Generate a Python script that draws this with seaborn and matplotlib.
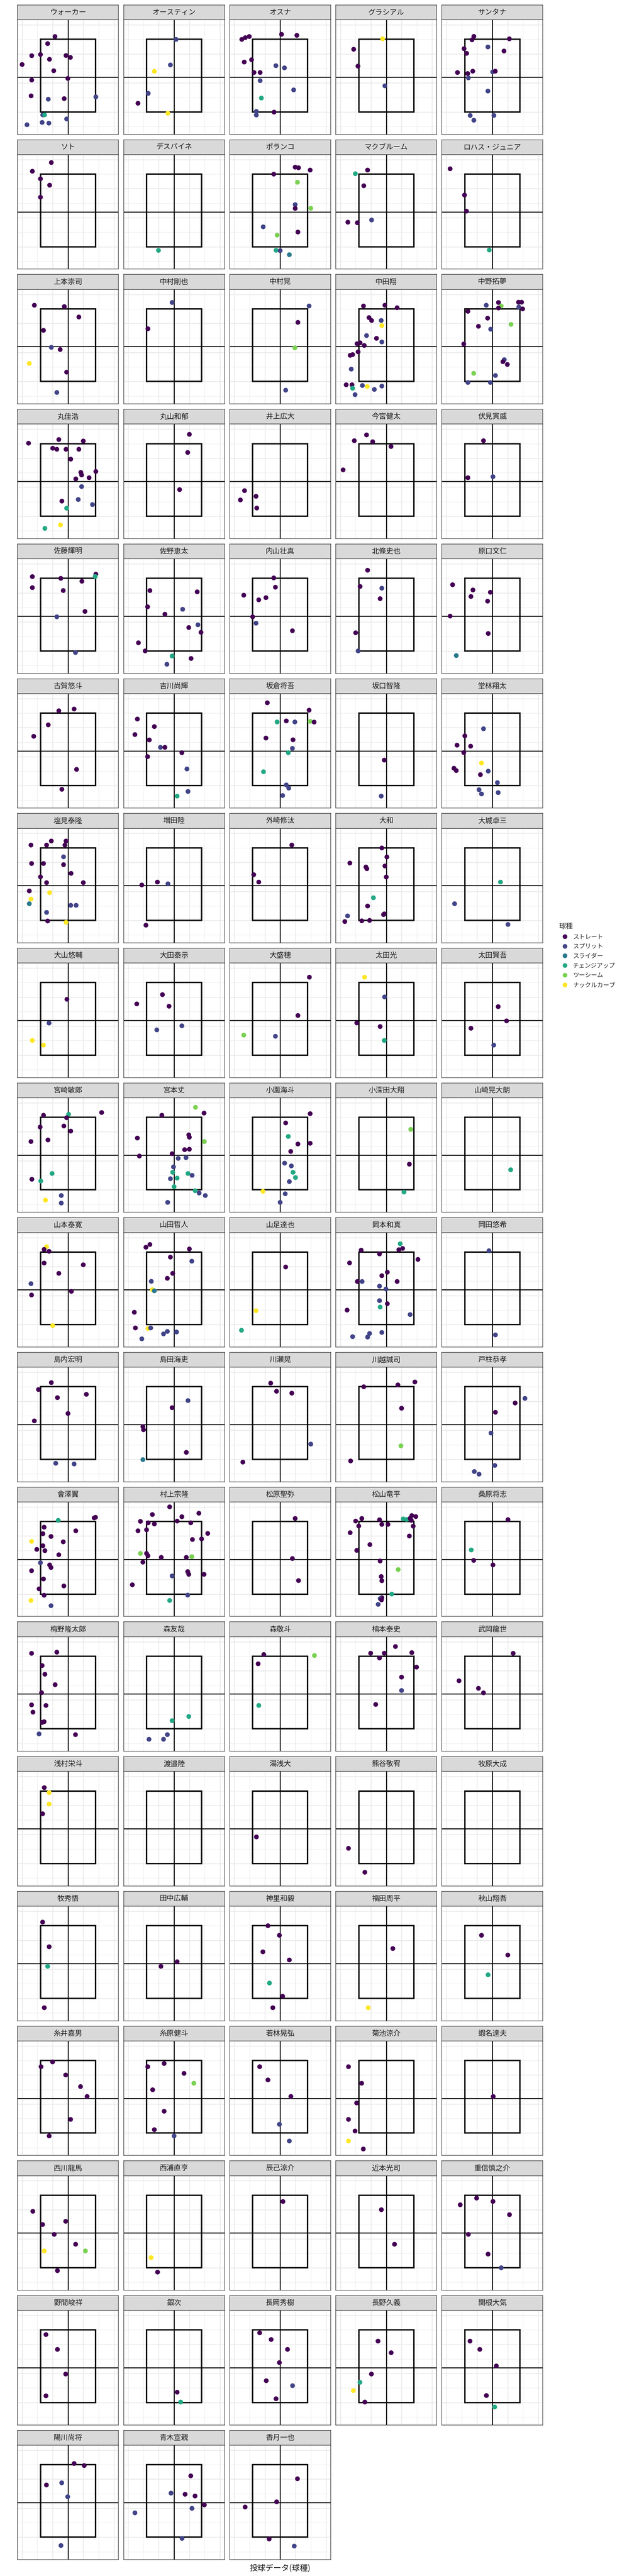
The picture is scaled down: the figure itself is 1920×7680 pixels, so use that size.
import numpy as np
import pandas as pd
import matplotlib
matplotlib.use("Agg")
import matplotlib.pyplot as plt
import seaborn as sns
from matplotlib.patches import Rectangle
from matplotlib.lines import Line2D

sns.set_theme(style="white")
plt.rcParams['font.family'] = ['Noto Sans CJK JP', 'DejaVu Sans']

pitch_names = ["ストレート", "スプリット", "スライダー", "チェンジアップ", "ツーシーム", "ナックルカーブ"]
pitch_codes = "SPLCTK"
palette = ["#440154", "#414487", "#2A788E", "#22A884", "#7AD151", "#FDE725"]

players = [
    "ウォーカー", "オースティン", "オスナ", "グラシアル", "サンタナ",
    "ソト", "デスパイネ", "ポランコ", "マクブルーム", "ロハス・ジュニア",
    "上本崇司", "中村剛也", "中村晃", "中田翔", "中野拓夢",
    "丸佳浩", "丸山和郁", "井上広大", "今宮健太", "伏見寅威",
    "佐藤輝明", "佐野恵太", "内山壮真", "北條史也", "原口文仁",
    "古賀悠斗", "吉川尚輝", "坂倉将吾", "坂口智隆", "堂林翔太",
    "塩見泰隆", "増田陸", "外崎修汰", "大和", "大城卓三",
    "大山悠輔", "大田泰示", "大盛穂", "太田光", "太田賢吾",
    "宮崎敏郎", "宮本丈", "小園海斗", "小深田大翔", "山崎晃大朗",
    "山本泰寛", "山田哲人", "山足達也", "岡本和真", "岡田悠希",
    "島内宏明", "島田海吏", "川瀬晃", "川越誠司", "戸柱恭孝",
    "會澤翼", "村上宗隆", "松原聖弥", "松山竜平", "桑原将志",
    "梅野隆太郎", "森友哉", "森敬斗", "楠本泰史", "武岡龍世",
    "浅村栄斗", "渡邉陸", "湯浅大", "熊谷敬宥", "牧原大成",
    "牧秀悟", "田中広輔", "神里和毅", "福田周平", "秋山翔吾",
    "糸井嘉男", "糸原健斗", "若林晃弘", "菊池涼介", "蝦名達夫",
    "西川龍馬", "西浦直亨", "辰己涼介", "近本光司", "重信慎之介",
    "野間峻祥", "銀次", "長岡秀樹", "長野久義", "関根大気",
    "陽川尚将", "青木宣親", "香月一也",
]

# horizontal location of each pitch (one list per player, same order as players)
loc_x = [
    [-0.85,-1.33,-2.37,-1.80,-0.13,0.16,-1.21,-3.00,-0.93,-2.37,-0.01,-2.41,-0.25,-1.29,1.82,-1.65,-1.53,-0.09,-1.69,-1.25,-2.68],
    [0.13,-0.24,-1.29,-1.69,-2.36,-0.41],
    [-2.51,-2.28,-2.02,0.09,1.09,-2.35,-1.87,-0.28,0.28,-1.71,-1.31,-1.31,0.88,-1.23,-1.56,-1.56,-0.40],
    [-0.24,-2.13,-1.85,-0.09],
    [-1.21,-1.33,1.11,-0.29,-1.85,-1.68,0.76,-2.28,-1.61,-1.28,0.02,0.19,-1.57,-0.29,-1.45,0.10,-1.21],
    [-1.09,-2.33,-1.80,-1.20,-1.80],
    [-1.04],
    [0.98,1.20,1.96,-0.42,1.13,0.98,0.98,2.00,-1.11,-0.20,1.16,-0.27,0.00,0.60],
    [-1.22,-2.02,-1.47,-2.51,-1.89,-0.96],
    [-2.76,-1.82,-1.69,-0.20],
    [-2.20,-0.24,0.71,-1.60,-1.09,-0.51,-2.53,-0.09,-0.73],
    [-0.13,-1.71],
    [1.89,1.16,0.96,0.36],
    [-1.49,-0.09,0.71,-1.13,-0.96,-0.33,-0.29,-1.29,-0.64,-0.29,-1.91,-1.71,-1.44,-1.84,-2.36,-2.20,-2.29,-2.62,-2.24,-2.20,-1.56,-1.24,-0.78,-0.29,-2.04],
    [-0.40,0.40,0.58,0.40,1.71,1.91,1.73,1.98,-1.60,-0.31,1.22,-0.91,-0.11,-1.87,0.78,0.69,0.98,-1.22,0.20,-1.60,-0.13],
    [-2.58,-0.60,1.00,-1.00,-0.73,-0.13,0.71,0.18,0.84,0.89,1.82,0.51,1.38,0.89,-0.40,0.67,1.60,-0.09,-0.49,-1.51],
    [1.00,0.89,0.36],
    [-2.33,-2.60,-1.58,-1.53],
    [-1.29,-2.09,-0.89,0.31,-2.82],
    [-0.58,-1.60,0.04],
    [-2.33,-0.47,1.82,1.78,0.91,-2.33,-0.31,1.11,-0.73,0.49],
    [-1.58,1.51,-1.73,0.56,-0.60,1.56,0.96,1.76,-2.33,-1.89,-0.13,1.11,-0.47],
    [-0.42,-0.31,-2.38,-1.40,-0.93,-1.80,-1.58,0.80],
    [-1.22,-1.71,-0.29,-0.40,-2.00,-1.84],
    [-2.60,-1.27,-0.13,-1.40,-0.31,-2.76,-0.27,-2.36],
    [-0.60,0.40,-1.29,-2.24,0.56,-0.40],
    [-2.40,-1.29,-2.56,-1.62,-0.89,-0.60,0.51,-1.73,0.84,0.91,0.20],
    [-0.84,1.89,-0.20,0.40,0.96,1.96,2.22,-0.93,0.84,0.80,0.53,-1.09,0.40,0.56,0.16],
    [-0.13,-0.33],
    [-0.58,-1.80,-2.31,-1.42,-1.87,-0.71,-2.51,-2.36,-0.78,-0.27,0.33,-0.87,-0.71,0.38],
    [-2.42,-1.40,-1.09,-0.13,-0.20,-0.29,-2.38,-1.60,-0.29,0.20,-1.80,-1.40,1.00,-2.53,-1.20,-2.42,-2.53,0.18,0.53,-1.40,-1.33,-0.13],
    [-2.11,-1.09,-0.40,-1.84],
    [0.76,-1.73,-1.40],
    [-0.29,0.04,-2.38,-1.33,-1.27,-0.09,0.00,-0.84,-1.22,-0.18,-0.13,-2.53,-2.71,-1.60,-1.09],
    [0.53,-2.47,1.02],
    [-0.07,-1.24,-2.33,-1.60],
    [-0.76,-2.44,-0.33,0.51,-1.13],
    [1.91,1.16,-2.38,-0.31],
    [-1.42,-0.11,-1.93,-0.40,-0.13],
    [0.38,0.93,-1.40,0.09],
    [-1.60,0.04,-0.09,2.20,-1.82,-0.27,0.18,-2.42,-1.31,-1.04,-2.36,-1.78,-0.44,-1.47,-0.44],
    [1.40,1.96,-0.80,-2.40,0.96,1.00,1.98,0.69,1.00,-0.13,-2.27,0.27,0.78,-0.04,-0.09,0.91,1.18,-0.24,0.20,0.00,1.38,1.64,2.04,-0.42],
    [1.96,0.36,0.53,1.16,1.96,0.69,0.29,0.73,0.84,1.00,0.60,-1.13,0.33,0.00],
    [1.60,1.51,1.16],
    [1.18],
    [-1.40,-1.56,-1.24,-1.56,1.00,-0.60,-2.42,0.22,-2.38,-1.00],
    [-1.84,-1.58,1.00,-0.24,1.16,-0.09,-0.44,-1.49,-1.42,-1.29,-2.60,-2.53,-1.71,-1.53,-0.44,-0.69,0.16,-2.11],
    [0.36,-1.58,-2.53],
    [0.91,0.82,1.07,-1.64,-0.44,2.07,-2.40,0.07,-0.29,-1.89,-1.58,0.71,-0.44,-0.02,-0.44,0.07,-0.40,-2.56,1.56,-1.09,-1.22,-2.20,-0.29],
    [-0.22,0.20],
    [-1.09,-1.93,-0.69,1.20,0.00,-2.20,-0.80,0.40],
    [0.91,-0.13,-2.04,-2.00,0.80,-2.04],
    [-0.62,-0.24,0.76,2.00,-2.44],
    [-1.47,0.76,1.87,1.00,0.96,-2.33],
    [2.13,1.49,0.20,-0.09,0.16,-1.18,-0.87],
    [-0.64,1.71,1.80,-1.56,0.51,-1.64,-1.11,-2.38,-0.31,-1.64,-2.04,-1.51,-0.60,-1.80,-1.20,-1.11,-2.38,-1.60,-0.27,-1.89,-1.56,-2.42,-1.11],
    [-0.29,-1.42,0.51,1.62,-2.20,-1.69,-1.29,0.20,1.09,-2.36,-1.80,2.20,1.20,1.80,-2.20,-1.80,-1.71,-0.84,0.80,1.16,-2.04,0.89,0.96,-0.13,1.96,-2.73,0.89,-0.29],
    [0.98,0.80,1.20],
    [-2.00,-1.60,-0.44,-1.80,-0.29,0.11,1.11,1.33,1.67,1.93,1.56,1.64,1.76,-2.36,1.51,-1.07,-1.93,-0.40,0.78,-0.33,-0.29,0.36,-0.29,-0.40,-0.31,-0.53],
    [1.02,-1.38,-1.22,0.04],
    [-2.38,-0.73,-1.69,-1.51,-0.84,-1.73,-2.38,-1.44,-2.29,-1.69,-1.56,-1.89,0.49],
    [0.96,-0.13,-0.44,-1.64,-0.69],
    [-1.07,2.24,-1.44,-1.40],
    [0.60,-1.02,-0.13,1.67,-0.44,1.98,1.00,1.00,-0.69],
    [1.36,-2.18,-0.91,-0.58],
    [-1.55,-1.23,-1.23,-1.66],
    [],
    [-1.56],
    [-2.47,-1.40],
    [],
    [-1.66,-1.23,-1.33,-1.55],
    [-0.86,0.20],
    [-0.80,-0.05,-1.13,0.60,-0.70,0.16,-0.48],
    [0.43,-1.18],
    [-0.71,1.01,-0.28],
    [-1.76,-1.01,-0.15,0.82,1.25,0.17,-1.23],
    [-1.72,-0.65,0.65,-1.40,1.29,-0.65,-1.29,0.00],
    [-1.34,-0.80,0.70,-0.05,0.60],
    [-2.47,-1.61,-1.94,-2.47,-2.04,-2.47,-1.50],
    [0.04],
    [-2.30,-1.66,-0.90,-0.15,0.50,-1.55,1.14,-0.69],
    [-1.50,-1.08],
    [0.16],
    [-0.32,0.54],
    [-2.10,-1.03,0.04,1.12,-1.57,-0.28,0.58],
    [-1.44,-0.69,-0.15,-1.44],
    [0.20,0.43],
    [-1.34,-0.59,0.48,-0.05,-0.91,0.81,-0.27],
    [-0.54,0.32,-0.97,-2.15,-1.72,-1.40],
    [-1.46,-0.82,0.26,-0.39,0.15],
    [0.40,1.06,-1.41,-0.41,-0.02,-0.46],
    [1.09,-0.20,0.72,1.37,1.98,1.17,-2.56,0.52],
    [1.13,-0.23,-2.29,-0.72,0.92],
]

# vertical location of each pitch
loc_z = [
    [2.80,2.31,1.48,1.56,1.49,1.36,1.23,0.87,0.44,-0.20,-0.09,-1.29,-1.48,-1.52,-1.36,-2.60,-2.60,-2.88,-3.12,-3.17,-3.28],
    [2.60,0.84,0.40,-1.12,-1.80,-2.49],
    [2.60,2.72,2.80,2.95,2.88,1.04,1.20,0.79,0.64,0.32,0.32,-0.24,-0.88,-1.44,-2.36,-2.61,-2.41],
    [2.64,1.92,0.76,-0.60],
    [2.81,2.57,2.64,2.08,1.96,1.64,1.80,0.32,0.25,0.41,0.36,0.41,-0.05,-0.96,-2.64,-2.64,-2.97],
    [3.40,2.80,2.28,1.84,1.01],
    [-2.65],
    [3.08,3.04,2.88,2.60,2.04,0.50,0.24,0.25,-1.03,-1.60,-1.39,-2.65,-2.67,-2.95],
    [2.88,2.63,1.80,-0.71,-0.75,-0.56],
    [2.97,1.16,0.05,-2.63],
    [2.85,2.76,2.04,1.12,-0.05,-0.20,-1.16,-1.76,-3.16],
    [3.04,1.23],
    [2.80,1.67,-0.08,-3.00],
    [2.80,2.85,2.68,2.00,1.80,1.80,1.45,0.76,0.57,0.32,0.20,0.26,0.08,-0.36,-0.60,-0.55,-1.55,-2.63,-2.63,-2.87,-2.68,-2.75,-2.95,-2.72,-3.31],
    [2.85,3.04,2.80,2.66,3.06,3.06,2.73,2.60,2.43,1.96,1.53,1.40,1.20,0.18,-0.90,-1.04,-1.23,-1.84,-1.99,-2.47,-2.47],
    [2.63,2.88,2.78,2.28,2.21,2.21,2.21,1.53,0.62,0.44,0.68,0.17,0.25,-0.36,-1.36,-1.25,-1.60,-1.85,-3.00,-3.24],
    [3.24,1.99,-0.57],
    [-0.64,-1.28,-1.03,-1.84],
    [3.20,2.80,2.73,2.40,0.79],
    [2.80,0.25,0.32],
    [2.72,2.60,2.89,2.73,2.40,1.96,1.76,0.32,-0.05,-2.51],
    [1.76,1.67,0.64,0.47,0.13,-0.60,-0.79,-1.12,-1.84,-2.40,-2.75,-2.92,-3.32],
    [2.63,1.99,1.44,1.12,1.27,-0.05,-0.49,-1.01],
    [3.16,2.04,1.92,1.20,-1.15,-2.40],
    [2.16,1.80,1.64,1.35,1.03,0.00,-1.20,-2.72],
    [2.76,2.88,1.79,1.00,-1.28,-2.65],
    [2.19,1.67,1.12,0.75,0.24,0.24,-0.13,-0.40,-1.25,-2.80,-3.12],
    [3.31,2.80,1.99,2.06,1.99,2.03,1.98,0.88,0.76,0.17,-0.13,-1.44,-2.35,-2.57,-3.08],
    [-0.64,-3.12],
    [1.52,1.03,0.39,0.32,-0.12,-0.84,-1.20,-1.36,-1.64,-1.40,-2.19,-2.68,-2.97,-2.88],
    [2.79,2.79,3.07,3.07,2.79,1.98,1.52,1.52,1.44,0.84,0.60,0.20,0.20,-0.37,-0.49,-0.93,-1.25,-1.36,-1.36,-1.85,-2.44,-2.53],
    [0.04,0.24,0.12,-2.73],
    [2.79,0.75,0.24],
    [2.59,1.97,1.55,1.28,1.16,1.35,0.59,-0.84,-1.41,-2.00,-1.95,-2.09,-2.48,-2.43,-2.40],
    [0.24,-1.25,-2.68],
    [1.45,-0.19,-1.39,-1.71],
    [1.77,1.13,0.97,-0.38,-0.66],
    [2.97,0.33,-1.02,-1.10],
    [2.97,1.61,-0.18,-0.43,-1.39],
    [0.94,-0.04,-0.55,-1.71],
    [2.74,2.81,2.57,2.93,1.93,2.00,1.65,0.93,1.04,-1.27,-1.67,-1.79,-2.79,-3.11,-3.31],
    [3.29,2.89,2.74,1.17,1.39,1.23,0.93,0.37,0.40,0.09,-0.07,-0.23,-0.18,-0.82,-1.19,-1.27,-1.40,-1.63,-1.59,-2.18,-2.46,-2.62,-2.79,-3.26],
    [2.85,2.21,1.28,0.76,0.81,0.25,-0.56,-0.75,-1.19,-1.55,-1.83,-2.50,-2.67,-3.26],
    [1.77,-0.63,-2.55],
    [-1.00],
    [2.97,2.78,2.65,1.84,1.72,1.13,0.42,-0.11,-0.36,-2.47],
    [2.93,3.12,2.81,2.25,1.97,1.13,0.79,0.58,0.01,-0.07,-1.55,-2.63,-2.67,-2.63,-2.87,-3.04,-2.91,-3.38],
    [1.57,-1.44,-2.79],
    [3.17,2.76,2.85,2.73,2.47,2.09,1.85,1.21,0.97,0.57,0.57,0.57,0.25,0.05,-0.75,-0.96,-1.19,-1.40,-1.71,-3.01,-3.26,-3.23,-2.94],
    [2.69,-3.11],
    [2.89,2.41,1.85,2.08,0.76,0.25,-2.67,-2.72],
    [1.65,1.16,-0.14,-0.36,-1.92,-2.42],
    [2.85,2.29,2.16,-1.35,-2.59],
    [2.60,2.73,2.93,1.12,-1.47,-2.51],
    [1.80,1.48,0.84,-0.59,-2.82,-3.24,-3.42],
    [2.68,2.85,2.89,2.21,1.96,1.76,1.57,1.23,1.20,0.93,0.68,0.59,0.31,-0.24,-0.39,-0.57,-0.79,-1.36,-1.84,-2.04,-2.48,-2.84,-3.20],
    [3.61,3.08,2.93,3.17,2.61,2.51,2.43,2.63,2.51,1.96,2.03,1.78,1.36,1.40,0.40,0.40,0.24,0.13,0.13,0.18,-0.20,-0.85,-1.04,-1.15,-1.04,-1.76,-2.47,-2.84],
    [2.81,0.05,-1.47],
    [2.63,2.81,2.72,2.29,2.40,2.40,2.78,2.74,3.01,2.94,2.82,2.68,2.28,1.83,1.60,1.01,0.61,-0.12,-0.71,-1.19,-1.48,-2.40,-2.65,-2.71,-2.80,-3.11],
    [2.73,0.64,-0.08,-0.39],
    [2.80,2.88,1.96,1.36,0.64,0.09,-0.75,-0.79,-1.25,-1.96,-1.91,-2.75,-2.80],
    [-1.55,-1.84,-2.80,-3.12,-3.12],
    [2.72,2.65,2.08,-0.79],
    [3.27,2.81,2.81,2.85,2.48,1.85,1.16,0.24,-0.72],
    [2.80,0.91,0.39,0.08],
    [2.83,2.49,1.70,1.03],
    [],
    [-0.55],
    [-1.35,-3.00],
    [],
    [2.85,1.15,-0.20,-3.05],
    [-0.20,0.12],
    [2.60,1.94,0.80,0.24,-1.35,-2.26,-3.05],
    [1.03,-3.05],
    [1.94,0.58,-0.78],
    [2.17,2.50,1.60,0.80,0.12,-1.46,-2.60],
    [2.17,2.39,1.71,0.58,1.03,-0.90,-2.17,-2.60],
    [2.17,1.26,0.12,-1.80,-2.95],
    [2.17,1.03,-0.33,-1.46,-2.26,-2.95,-3.50],
    [0.12],
    [1.49,0.58,-0.10,0.80,-0.78,-1.24,-1.24,-2.60],
    [-1.70,-2.70],
    [2.17],
    [1.60,-0.78],
    [1.94,2.40,2.17,1.26,-0.10,-1.46,-2.40],
    [2.28,1.26,-0.44,-1.94],
    [-1.69,-2.37],
    [2.40,1.94,1.26,0.35,-0.90,-1.24,-2.14],
    [1.83,1.03,-0.44,-1.58,-1.01,-2.37],
    [1.83,1.26,0.12,-1.92,-2.71],
    [2.68,2.54,1.20,1.35,0.39,-2.97],
    [1.83,0.64,0.56,0.44,-0.17,-0.41,-0.72,-2.48],
    [1.63,0.04,-0.32,-2.52,-3.01],
]

# pitch type of each pitch, one code letter per pitch (codes in pitch_codes)
kinds = [
    "SSSSSSSSSSSSSPPPCPPPP", "PPKPSK", "SSSSSSSPPSSPPCPPS", "KSSP", "SSSPSSSSSSPSPPPPP",
    "SSSSS", "C", "SSSSTPSTPTSCPL", "SCSSSP", "SSSC",
    "SSSSPSKSP", "PS", "PSTP", "SSSSSPKPSPSSSSSSPSSCPKPPP", "PSTSSSPSSSTSPSPSSTPPP",
    "SSSSSSSSSSSSSPSPPCKC", "SSS", "SSSS", "SSSSS", "SSP",
    "SSSCSSSSPP", "SSSPSPSSSSCSP", "SSSSSSPS", "SSPSSP", "SSSSSSSL",
    "SSSSSS", "SSSSPSSSPPC", "SSCSPTSSSPCCPPP", "SP", "PSSSSKSSSPPPPP",
    "SSSSSPSSSSSSSSKKLPPPSK", "SSPS", "SSS", "SSSSSSSCSSSPSSS", "CPP",
    "SPKK", "SSSPP", "SSTP", "KPSSC", "SSSP",
    "SCSSSSSSSCSCPKP", "TSSSSSTSSSSPPPCCPPCCCPPP", "SSCSSSPPCCPKPP", "TSC", "C",
    "KSSSSSPSSK", "SSSSPSSPKLSSKPPPPP", "SKC", "CSSSSSSSSSPSPPPSCSPPPPP", "PP",
    "SSSSSSPP", "PSSSSL", "SSSPS", "SSSSTS", "PSSPPPP",
    "CSSSSSSKSSSSSPSSSSSSSKP", "SSSSSSSSSSSSSSTSSSSTSSSPSSPC", "SSS",
    "SSSSSSCCSSSSSSSSSSTSSCSPSP", "SCSS",
    "SSSSSSSSSSSPS", "CCPPP", "STSC", "SSSSSSSPS", "SSSS",
    "SKKS", "", "S", "SS", "",
    "SSCS", "SS", "SSSSCSS", "SK", "SSC",
    "SSSSSSS", "SSSSTSSP", "SSSPP", "SSSSSKS", "S",
    "SSSSSKTS", "KS", "S", "SS", "SSSSSSP",
    "SSSS", "SC", "SSSSSPS", "SSSKCS", "SSSSC",
    "SSSPPP", "SPSSSPPP", "SSSSP",
]

zone_x = (-1.8, 1.8)
zone_z = (-2.4, 2.6)
x_range = (-3.3, 3.3)
z_range = (-3.945, 3.945)
x_major = [-3, -1, 1, 3]
x_minor = [-2, 0, 2]
z_major = [3.6, 1.6, -0.4, -2.4]
z_minor = [2.6, 0.6, -1.4, -3.4]

rows = []
for name, xs, zs, ks in zip(players, loc_x, loc_z, kinds):
    for x, z, k in zip(xs, zs, ks):
        rows.append({"選手": name, "x": x, "z": z, "球種": pitch_names[pitch_codes.index(k)]})
df = pd.DataFrame(rows)

W, H, DPI = 1920, 7680, 100
fig = plt.figure(figsize=(W / DPI, H / DPI), dpi=DPI)
fig.patch.set_facecolor("white")

ncol = 5
col_x0, col_pitch, pw = 52.2, 316.3, 301.0
row_y0, row_pitch, sh, ph = 15.0, 401.7, 44.3, 341.4
border = "#333333"

for i, name in enumerate(players):
    r, c = divmod(i, ncol)
    left = col_x0 + c * col_pitch
    top = row_y0 + r * row_pitch
    sax = fig.add_axes([left / W, 1 - (top + sh) / H, pw / W, sh / H])
    sax.set_facecolor("#D9D9D9")
    sax.set_xticks([]); sax.set_yticks([])
    for sp in sax.spines.values():
        sp.set_color(border); sp.set_linewidth(1.1)
    sax.text(0.5, 0.5, name, ha="center", va="center", fontsize=15.5, color="#1A1A1A",
             transform=sax.transAxes)

    ax = fig.add_axes([left / W, 1 - (top + sh + ph) / H, pw / W, ph / H])
    ax.set_facecolor("white")
    ax.set_xlim(*x_range); ax.set_ylim(*z_range)
    ax.set_xticks(x_major); ax.set_xticks(x_minor, minor=True)
    ax.set_yticks(z_major); ax.set_yticks(z_minor, minor=True)
    ax.grid(True, which="major", color="#EBEBEB", linewidth=1.8)
    ax.grid(True, which="minor", color="#EBEBEB", linewidth=0.9)
    ax.set_axisbelow(True)
    ax.tick_params(which="both", length=0, labelbottom=False, labelleft=False)
    for sp in ax.spines.values():
        sp.set_color(border); sp.set_linewidth(1.1)
    ax.axhline(0, color="black", linewidth=2.0, zorder=2)
    ax.axvline(0, color="black", linewidth=2.0, zorder=2)
    ax.add_patch(Rectangle((zone_x[0], zone_z[0]), zone_x[1] - zone_x[0], zone_z[1] - zone_z[0],
                           fill=False, edgecolor="black", linewidth=3.0, zorder=3))
    sub = df[df["選手"] == name]
    if len(sub):
        sns.scatterplot(data=sub, x="x", y="z", hue="球種", hue_order=pitch_names,
                        palette=palette, s=105, linewidth=0, legend=False, ax=ax, zorder=5)
    ax.set_xlabel(""); ax.set_ylabel("")

handles = [Line2D([0], [0], marker="o", linestyle="", markersize=10, markerfacecolor=col,
                  markeredgewidth=0) for col in palette]
fig.legend(handles, pitch_names, title="球種", loc="upper left",
           bbox_to_anchor=(1650 / W, 1 - 2735 / H), frameon=False, fontsize=13,
           title_fontsize=15, handletextpad=0.3, labelspacing=0.6, alignment="left")

fig.text(835 / W, 1 - 7657 / H, "投球データ(球種)", ha="center", va="center", fontsize=17, color="#1A1A1A")

fig.savefig("out.png", dpi=DPI, facecolor="white")
